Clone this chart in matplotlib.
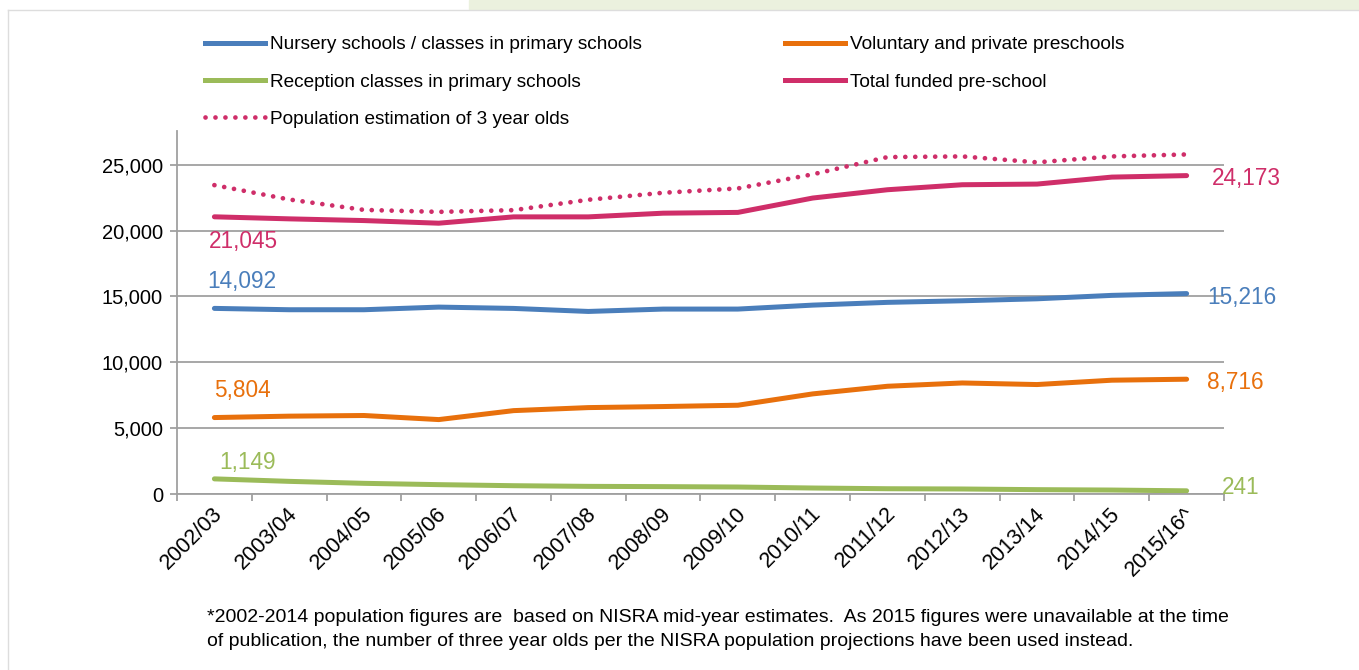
import matplotlib
matplotlib.use("Agg")
import matplotlib.pyplot as plt
import numpy as np
from matplotlib.patches import Rectangle
from matplotlib.lines import Line2D
from matplotlib.ticker import FuncFormatter
import matplotlib.transforms as mtrans

plt.rcParams['font.family'] = ['Liberation Sans', 'DejaVu Sans']

years = ['2002/03', '2003/04', '2004/05', '2005/06', '2006/07', '2007/08', '2008/09',
         '2009/10', '2010/11', '2011/12', '2012/13', '2013/14', '2014/15', '2015/16^']
nursery = [14092, 13990, 13990, 14190, 14090, 13860, 14040,
           14040, 14340, 14550, 14670, 14820, 15080, 15216]
voluntary = [5804, 5910, 5960, 5650, 6330, 6560, 6640,
             6740, 7600, 8180, 8430, 8310, 8640, 8716]
reception = [1149, 960, 810, 710, 630, 580, 560,
             530, 455, 400, 380, 330, 300, 241]
total = [21045, 20890, 20760, 20560, 21040, 21040, 21320,
         21380, 22470, 23100, 23480, 23530, 24060, 24173]
population = [23450, 22360, 21570, 21420, 21550, 22340, 22870,
              23200, 24270, 25580, 25630, 25180, 25630, 25780]

c_blue = '#4A7EBB'
c_orange = '#E8700C'
c_green = '#9BBB59'
c_pink = '#CF2E69'
c_grid = '#A0A0A0'

W, H = 1359, 670
fig = plt.figure(figsize=(W / 100, H / 100), dpi=100)

# page decoration
fig.patches.append(Rectangle((469 / W, 1 - 9 / H), (W - 469) / W, 9 / H,
                             transform=fig.transFigure, color='#EBF1DE', zorder=0))
fig.add_artist(Line2D([7.5 / W, 1], [1 - 9.5 / H, 1 - 9.5 / H], transform=fig.transFigure,
                      color='#DDDDDD', lw=1))
fig.add_artist(Line2D([7.5 / W, 7.5 / W], [0, 1 - 9.5 / H], transform=fig.transFigure,
                      color='#DDDDDD', lw=1))

ax = fig.add_axes([177 / W, 1 - 494 / H, 1047 / W, 363 / H])
x = np.arange(len(years))

ax.plot(x, nursery, color=c_blue, lw=3.6, solid_capstyle='round', solid_joinstyle='round')
ax.plot(x, voluntary, color=c_orange, lw=3.6, solid_capstyle='round', solid_joinstyle='round')
ax.plot(x, reception, color=c_green, lw=3.6, solid_capstyle='round', solid_joinstyle='round')
ax.plot(x, total, color=c_pink, lw=3.6, solid_capstyle='round', solid_joinstyle='round')
ax.plot(x, population, color=c_pink, lw=3.4, linestyle=(0, (0.01, 2.1)),
        dash_capstyle='round')

ax.set_xlim(-0.5, len(years) - 0.5)
ax.set_ylim(0, 27560)
ax.set_yticks(np.arange(0, 25001, 5000))
ax.yaxis.set_major_formatter(FuncFormatter(lambda v, p: f'{int(v):,}'))
ax.grid(axis='y', color=c_grid, lw=1.3)
ax.set_axisbelow(True)

for s in ['top', 'right']:
    ax.spines[s].set_visible(False)
for s in ['left', 'bottom']:
    ax.spines[s].set_color(c_grid)
    ax.spines[s].set_linewidth(1.3)

ax.set_xticks(np.arange(-0.5, len(years), 1))
ax.set_xticklabels([])
ax.set_xticks(x, minor=True)
ax.set_xticklabels(years, minor=True, rotation=45, ha='right', va='center',
                   rotation_mode='anchor', fontsize=15.5)
ax.tick_params(axis='x', which='major', length=5, color=c_grid, width=1.3)
ax.tick_params(axis='x', which='minor', length=0, pad=12)
ax.tick_params(axis='y', length=5, color=c_grid, width=1.3, labelsize=14.5, pad=5)
offset = mtrans.ScaledTranslation(5 / 100, 0, fig.dpi_scale_trans)
for lab in ax.get_xticklabels(minor=True):
    lab.set_transform(lab.get_transform() + offset)

# data labels at first and last points
lab_kw = dict(textcoords='offset pixels', ha='left', va='center', fontsize=16.3)
ax.annotate(f'{total[0]:,}', (0, total[0]), xytext=(-6, -25), color=c_pink, **lab_kw)
ax.annotate(f'{nursery[0]:,}', (0, nursery[0]), xytext=(-7, 27), color=c_blue, **lab_kw)
ax.annotate(f'{voluntary[0]:,}', (0, voluntary[0]), xytext=(0, 27), color=c_orange, **lab_kw)
ax.annotate(f'{reception[0]:,}', (0, reception[0]), xytext=(5, 16), color=c_green, **lab_kw)
n = len(years) - 1
ax.annotate(f'{total[n]:,}', (n, total[n]), xytext=(25, -3), color=c_pink, **lab_kw)
ax.annotate(f'{nursery[n]:,}', (n, nursery[n]), xytext=(21, -4), color=c_blue, **lab_kw)
ax.annotate(f'{voluntary[n]:,}', (n, voluntary[n]), xytext=(20, -3), color=c_orange, **lab_kw)
ax.annotate(f'{reception[n]:,}', (n, reception[n]), xytext=(35, 3), color=c_green, **lab_kw)

# legend in two columns
h_n = Line2D([], [], color=c_blue, lw=3.6)
h_v = Line2D([], [], color=c_orange, lw=3.6)
h_r = Line2D([], [], color=c_green, lw=3.6)
h_t = Line2D([], [], color=c_pink, lw=3.6)
h_p = Line2D([], [], color=c_pink, lw=3.4, linestyle=(0, (0.01, 2.1)), dash_capstyle='round')
leg_kw = dict(loc='upper left', frameon=False, fontsize=13.7, handlelength=3.15,
              handletextpad=0.28, labelspacing=1.05, borderpad=0, borderaxespad=0)
fig.legend([h_n, h_r, h_p],
           ['Nursery schools / classes in primary schools', 'Reception classes in primary schools',
            'Population estimation of 3 year olds'],
           bbox_to_anchor=(205 / W, 1 - 36 / H), **leg_kw)
fig.legend([h_v, h_t], ['Voluntary and private preschools', 'Total funded pre-school'],
           bbox_to_anchor=(785 / W, 1 - 36 / H), **leg_kw)

fig.text(207 / W, 1 - 617 / H,
         '*2002-2014 population figures are  based on NISRA mid-year estimates.  '
         'As 2015 figures were unavailable at the time', fontsize=14.0, va='center')
fig.text(207 / W, 1 - 642 / H,
         'of publication, the number of three year olds per the NISRA population '
         'projections have been used instead.', fontsize=14.0, va='center')

fig.savefig('out.png', dpi=100)
